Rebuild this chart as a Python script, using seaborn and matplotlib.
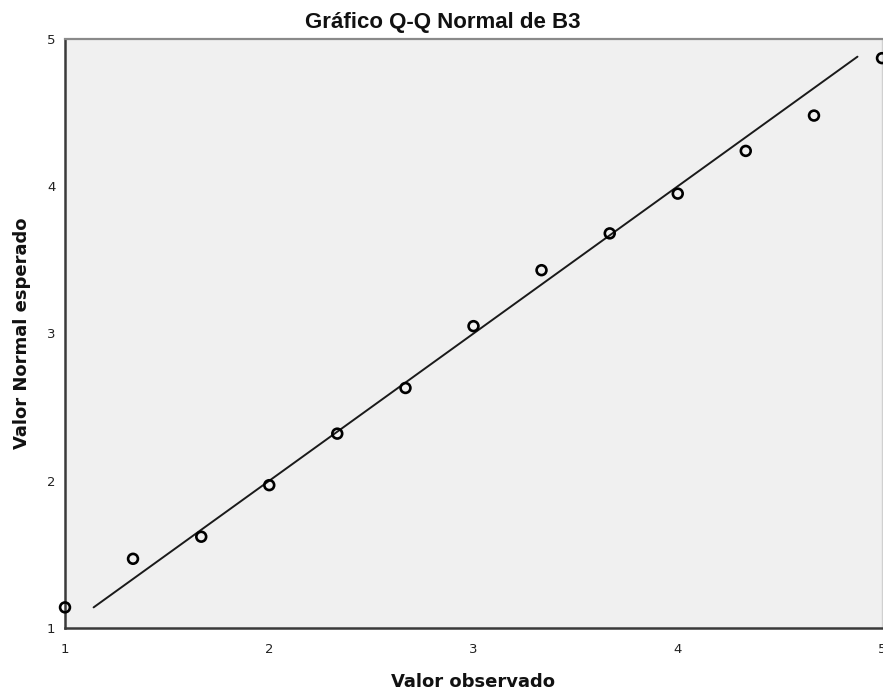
import matplotlib
matplotlib.use("Agg")
import matplotlib.pyplot as plt
import seaborn as sns
import pandas as pd

# Data
observed = [1.0, 1.333, 1.667, 2.0, 2.333, 2.667, 3.0, 3.333, 3.667, 4.0, 4.333, 4.667, 5.0]
expected = [1.14, 1.47, 1.62, 1.97, 2.32, 2.63, 3.05, 3.43, 3.68, 3.95, 4.24, 4.48, 4.87]
ref_line = [1.14, 4.88]
ticks = [1, 2, 3, 4, 5]
title = "Gráfico Q-Q Normal de B3"
xlabel = "Valor observado"
ylabel = "Valor Normal esperado"

sns.set_style("white")
plt.rcParams["font.family"] = ["DejaVu Sans"]

df = pd.DataFrame({"obs": observed, "exp": expected})
line_df = pd.DataFrame({"x": ref_line, "y": ref_line})

W, H = 883, 693
fig = plt.figure(figsize=(W / 100, H / 100), dpi=100)
ax = fig.add_axes([65 / W, 65 / H, 817 / W, 589 / H])
ax.set_facecolor("#F0F0F0")

sns.lineplot(data=line_df, x="x", y="y", ax=ax, color="#1a1a1a", linewidth=1.4)
sns.scatterplot(data=df, x="obs", y="exp", ax=ax, marker="o", s=50,
                facecolor="none", edgecolor="black", linewidth=1.9, clip_on=False, zorder=5)

ax.set_xlim(1, 5)
ax.set_ylim(1, 5)
ax.set_xticks(ticks)
ax.set_yticks(ticks)
ax.set_xticklabels([str(t) for t in ticks])
ax.set_yticklabels([str(t) for t in ticks])
ax.tick_params(axis="both", direction="out", length=5.5, width=1.5, color="#333333",
               labelsize=9.5, labelcolor="#222222")
ax.tick_params(axis="y", pad=1.5)
ax.tick_params(axis="x", pad=5)

for side in ["left", "bottom"]:
    ax.spines[side].set_color("#3a3a3a")
    ax.spines[side].set_linewidth(1.8)
ax.spines["top"].set_color("#8a8a8a")
ax.spines["top"].set_linewidth(1.6)
ax.spines["right"].set_color("#d0d0d0")
ax.spines["right"].set_linewidth(1.0)

fig.text(443 / W, 1 - 28 / H, title, ha="center", va="baseline",
         fontsize=16, fontweight="bold", color="#111111",
         family=["Liberation Sans", "DejaVu Sans"])
ax.set_xlabel("")
ax.set_ylabel("")
fig.text(473 / W, 1 - 687 / H, xlabel, ha="center", va="baseline",
         fontsize=13, fontweight="bold", color="#111111")
fig.text(22 / W, 1 - 333 / H, ylabel, ha="center", va="center", rotation=90,
         fontsize=13, fontweight="bold", color="#111111")

fig.savefig("out.png", dpi=100)
